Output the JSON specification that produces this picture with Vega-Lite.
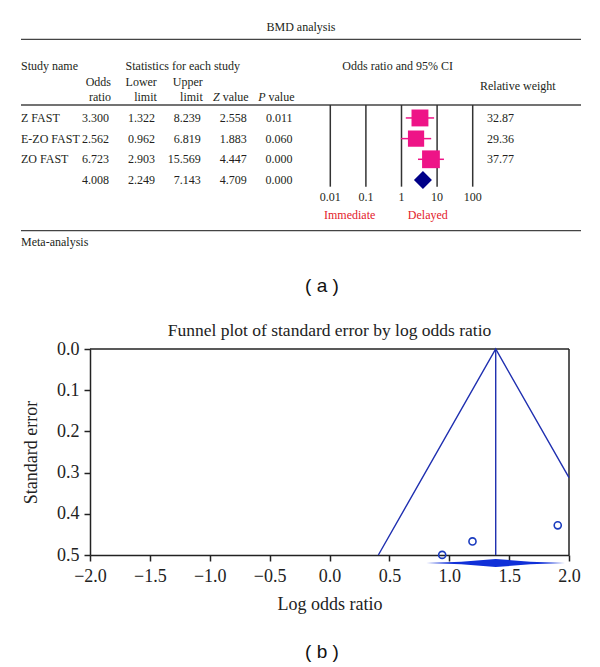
{
  "$schema": "https://vega.github.io/schema/vega-lite/v6.json",
  "background": "white",
  "padding": {"left": 20, "top": 0, "right": 0, "bottom": 0},
  "spacing": 16,
  "config": {
    "view": {"stroke": null},
    "font": "Liberation Serif",
    "text": {"font": "Liberation Serif", "fontSize": 12, "color": "#231f20"},
    "axis": {"labelFont": "Liberation Serif", "labelFontSize": 18, "labelColor": "#222", "titleFont": "Liberation Serif", "titleFontSize": 18, "titleFontWeight": "normal", "titleColor": "#222", "domainColor": "#222", "domainWidth": 1.5, "tickColor": "#222", "tickWidth": 1.5, "tickSize": 6, "grid": false}
  },
  "datasets": {
    "rows": [
      {"study": "Z FAST", "type": "study", "order": 1, "or": 3.3, "lo": 1.322, "hi": 8.239, "z": 2.558, "p": 0.011, "weight": 32.87},
      {"study": "E-ZO FAST", "type": "study", "order": 2, "or": 2.562, "lo": 0.962, "hi": 6.819, "z": 1.883, "p": 0.06, "weight": 29.36},
      {"study": "ZO FAST", "type": "study", "order": 3, "or": 6.723, "lo": 2.903, "hi": 15.569, "z": 4.447, "p": 0.0, "weight": 37.77},
      {"study": "Meta-analysis", "type": "pooled", "order": 4, "or": 4.008, "lo": 2.249, "hi": 7.143, "z": 4.709, "p": 0.0}
    ],
    "headers": [
      {"key": "or", "h1": "Odds", "h2": "ratio", "it": ""},
      {"key": "lo", "h1": "Lower", "h2": "limit", "it": ""},
      {"key": "hi", "h1": "Upper", "h2": "limit", "it": ""},
      {"key": "z", "h1": "", "h2": "value", "it": "Z"},
      {"key": "p", "h1": "", "h2": "value", "it": "P"}
    ],
    "ticks": [
      {"t": 0.01, "label": "0.01"},
      {"t": 0.1, "label": "0.1"},
      {"t": 1, "label": "1"},
      {"t": 10, "label": "10"},
      {"t": 100, "label": "100"}
    ],
    "funnel_pts": [
      {"study": "Z FAST", "lor": 1.194, "se": 0.467},
      {"study": "E-ZO FAST", "lor": 0.941, "se": 0.4997},
      {"study": "ZO FAST", "lor": 1.906, "se": 0.428}
    ],
    "funnel_lines": [
      {"lor": 0.408, "se": 0.5},
      {"lor": 1.388, "se": 0},
      {"lor": 2.0, "se": 0.3122}
    ],
    "diamond": [
      {"lor": 0.81, "lo": 0.5194, "hi": 0.5194},
      {"lor": 1.1, "lo": 0.5162, "hi": 0.5226},
      {"lor": 1.388, "lo": 0.5097, "hi": 0.5291},
      {"lor": 1.677, "lo": 0.5162, "hi": 0.5226},
      {"lor": 1.966, "lo": 0.5194, "hi": 0.5194}
    ]
  },
  "vconcat": [
    {
      "width": 560,
      "height": 305,
      "resolve": {"scale": {"x": "independent"}},
      "layer": [
        {"data": {"values": [{}]}, "mark": {"type": "rule", "color": "#444", "strokeWidth": 1.3},
         "encoding": {"y": {"datum": -2.806, "type": "quantitative", "scale": {"domain": [-4.707, 10.05], "reverse": true, "nice": false, "zero": false}, "axis": null}}},
        {"data": {"values": [{}]}, "mark": {"type": "rule", "color": "#444", "strokeWidth": 1.3},
         "encoding": {"y": {"datum": 0.373, "type": "quantitative", "scale": {"domain": [-4.707, 10.05], "reverse": true, "nice": false, "zero": false}, "axis": null}}},
        {"data": {"values": [{}]}, "mark": {"type": "rule", "color": "#444", "strokeWidth": 1.3},
         "encoding": {"y": {"datum": 6.454, "type": "quantitative", "scale": {"domain": [-4.707, 10.05], "reverse": true, "nice": false, "zero": false}, "axis": null}}},
        {"data": {"values": [{"label": "BMD analysis"}]}, "mark": {"type": "text"},
         "encoding": {"y": {"datum": -3.387, "type": "quantitative", "axis": null}, "text": {"field": "label"}}},
        {"data": {"values": [{"label": "( a )"}]}, "mark": {"type": "text", "font": "Liberation Sans", "fontSize": 19, "dx": 21, "color": "#111"},
         "encoding": {"y": {"datum": 9.13, "type": "quantitative", "axis": null}, "text": {"field": "label"}}},
        {
          "layer": [
            {"data": {"name": "rows"}, "transform": [{"fold": ["or", "lo", "hi", "z", "p"], "as": ["key", "val"]}],
             "mark": {"type": "text", "align": "right"},
             "encoding": {
               "x": {"field": "key", "type": "nominal", "scale": {"type": "point", "domain": ["or", "lo", "hi", "z", "p"], "range": [88, 271.5], "padding": 0}, "axis": null},
               "y": {"field": "order", "type": "quantitative", "axis": null},
               "text": {"field": "val", "type": "quantitative", "format": ".3f"}}},
            {"data": {"name": "headers"}, "mark": {"type": "text", "align": "right", "dx": 2},
             "encoding": {
               "x": {"field": "key", "type": "nominal", "axis": null},
               "y": {"datum": -0.726, "type": "quantitative", "axis": null},
               "text": {"field": "h1"}}},
            {"data": {"name": "headers"}, "mark": {"type": "text", "align": "right", "dx": 2},
             "encoding": {
               "x": {"field": "key", "type": "nominal", "axis": null},
               "y": {"datum": -0.03, "type": "quantitative", "axis": null},
               "text": {"field": "h2"}}},
            {"data": {"name": "headers"}, "transform": [{"filter": "datum.it !== ''"}],
             "mark": {"type": "text", "align": "right", "dx": -27, "fontStyle": "italic"},
             "encoding": {
               "x": {"field": "key", "type": "nominal", "axis": null},
               "y": {"datum": -0.03, "type": "quantitative", "axis": null},
               "text": {"field": "it"}}},
            {"data": {"values": [{"label": "Statistics for each study"}]}, "mark": {"type": "text", "dx": -18},
             "encoding": {
               "x": {"datum": "hi", "type": "nominal", "axis": null},
               "y": {"datum": -1.514, "type": "quantitative", "axis": null},
               "text": {"field": "label"}}}
          ]
        },
        {
          "layer": [
            {"data": {"name": "rows"}, "transform": [{"filter": "datum.type === 'study'"}],
             "mark": {"type": "text", "align": "left"},
             "encoding": {
               "x": {"datum": "name", "type": "nominal", "scale": {"type": "point", "domain": ["name", "weight"], "range": [0, 466], "padding": 0}, "axis": null},
               "y": {"field": "order", "type": "quantitative", "axis": null},
               "text": {"field": "study"}}},
            {"data": {"name": "rows"}, "transform": [{"filter": "datum.type === 'study'"}],
             "mark": {"type": "text", "align": "left"},
             "encoding": {
               "x": {"datum": "weight", "type": "nominal", "axis": null},
               "y": {"field": "order", "type": "quantitative", "axis": null},
               "text": {"field": "weight", "type": "quantitative", "format": ".2f"}}},
            {"data": {"values": [{"label": "Study name"}]}, "mark": {"type": "text", "align": "left"},
             "encoding": {
               "x": {"datum": "name", "type": "nominal", "axis": null},
               "y": {"datum": -1.514, "type": "quantitative", "axis": null},
               "text": {"field": "label"}}},
            {"data": {"values": [{"label": "Meta-analysis"}]}, "mark": {"type": "text", "align": "left"},
             "encoding": {
               "x": {"datum": "name", "type": "nominal", "axis": null},
               "y": {"datum": 7.015, "type": "quantitative", "axis": null},
               "text": {"field": "label"}}},
            {"data": {"values": [{"label": "Relative weight"}]}, "mark": {"type": "text", "align": "left", "dx": -7},
             "encoding": {
               "x": {"datum": "weight", "type": "nominal", "axis": null},
               "y": {"datum": -0.547, "type": "quantitative", "axis": null},
               "text": {"field": "label"}}}
          ]
        },
        {
          "layer": [
            {"data": {"name": "ticks"}, "mark": {"type": "rule", "color": "#333", "strokeWidth": 1.5},
             "encoding": {
               "x": {"field": "t", "type": "quantitative", "scale": {"type": "log", "domain": [0.01, 100], "range": [309.3, 451.7], "nice": false}, "axis": null},
               "y": {"datum": 0.373, "type": "quantitative", "axis": null},
               "y2": {"datum": 4.325}}},
            {"data": {"name": "ticks"}, "mark": {"type": "text"},
             "encoding": {
               "x": {"field": "t", "type": "quantitative", "axis": null},
               "y": {"datum": 4.81, "type": "quantitative", "axis": null},
               "text": {"field": "label"}}},
            {"data": {"values": [{"label": "Immediate"}]}, "mark": {"type": "text", "color": "#e3202b"},
             "encoding": {
               "x": {"datum": 0.035, "type": "quantitative", "axis": null},
               "y": {"datum": 5.69, "type": "quantitative", "axis": null},
               "text": {"field": "label"}}},
            {"data": {"values": [{"label": "Delayed"}]}, "mark": {"type": "text", "color": "#e3202b"},
             "encoding": {
               "x": {"datum": 5.5, "type": "quantitative", "axis": null},
               "y": {"datum": 5.69, "type": "quantitative", "axis": null},
               "text": {"field": "label"}}},
            {"data": {"values": [{"label": "Odds ratio and 95% CI"}]}, "mark": {"type": "text"},
             "encoding": {
               "x": {"datum": 0.78, "type": "quantitative", "axis": null},
               "y": {"datum": -1.514, "type": "quantitative", "axis": null},
               "text": {"field": "label"}}},
            {"data": {"name": "rows"}, "transform": [{"filter": "datum.type === 'study'"}],
             "mark": {"type": "rule", "color": "#ee1487", "strokeWidth": 1.5},
             "encoding": {
               "x": {"field": "lo", "type": "quantitative", "axis": null},
               "x2": {"field": "hi"},
               "y": {"field": "order", "type": "quantitative", "axis": null}}},
            {"data": {"name": "rows"}, "transform": [{"filter": "datum.type === 'study'"}],
             "mark": {"type": "point", "shape": "square", "filled": true, "color": "#ee1487", "opacity": 1},
             "encoding": {
               "x": {"field": "or", "type": "quantitative", "axis": null},
               "y": {"field": "order", "type": "quantitative", "axis": null},
               "size": {"field": "weight", "type": "quantitative", "scale": {"domain": [0, 40], "range": [80, 330]}, "legend": null}}},
            {"data": {"name": "rows"}, "transform": [{"filter": "datum.type === 'pooled'"}],
             "mark": {"type": "point", "shape": "diamond", "filled": true, "color": "#000088", "size": 324, "opacity": 1},
             "encoding": {
               "x": {"field": "or", "type": "quantitative", "axis": null},
               "y": {"field": "order", "type": "quantitative", "axis": null}}}
          ]
        }
      ]
    },
    {
      "width": 548,
      "height": 206,
      "title": {"text": "Funnel plot of standard error by log odds ratio", "font": "Liberation Serif", "fontSize": 17.5, "fontWeight": "normal", "color": "#222", "offset": 1, "dx": 34.5},
      "layer": [
        {"data": {"values": [{}]}, "mark": {"type": "rule", "color": "#222", "strokeWidth": 1.5},
         "encoding": {
           "x": {"datum": -2, "type": "quantitative", "title": "Log odds ratio", "scale": {"domain": [-2, 2], "range": [69, 548], "nice": false, "zero": false}, "axis": {"values": [-2, -1.5, -1, -0.5, 0, 0.5, 1, 1.5, 2], "format": ".1f", "labelFlush": false, "labelOverlap": false, "titlePadding": 10, "labelPadding": 6}},
           "x2": {"datum": 2},
           "y": {"datum": 0, "type": "quantitative", "title": "Standard error", "scale": {"domain": [0, 0.5], "reverse": true, "nice": false, "zero": false}, "axis": {"values": [0, 0.1, 0.2, 0.3, 0.4, 0.5], "format": ".1f", "labelFlush": false, "labelOverlap": false, "titlePadding": 16, "labelPadding": 5, "offset": -69}}}},
        {"data": {"values": [{}]}, "mark": {"type": "rule", "color": "#222", "strokeWidth": 1.5},
         "encoding": {
           "x": {"datum": 2, "type": "quantitative", "title": "Log odds ratio", "scale": {"domain": [-2, 2], "range": [69, 548], "nice": false, "zero": false}},
           "y": {"datum": 0, "type": "quantitative", "title": "Standard error", "scale": {"domain": [0, 0.5], "reverse": true, "nice": false, "zero": false}},
           "y2": {"datum": 0.5}}},
        {"data": {"name": "funnel_lines"}, "mark": {"type": "line", "color": "#1f2fb0", "strokeWidth": 1.4},
         "encoding": {
           "x": {"field": "lor", "type": "quantitative", "title": "Log odds ratio", "scale": {"domain": [-2, 2], "range": [69, 548], "nice": false, "zero": false}},
           "y": {"field": "se", "type": "quantitative", "title": "Standard error", "scale": {"domain": [0, 0.5], "reverse": true, "nice": false, "zero": false}}}},
        {"data": {"values": [{}]}, "mark": {"type": "rule", "color": "#1f2fb0", "strokeWidth": 1.4},
         "encoding": {
           "x": {"datum": 1.388, "type": "quantitative", "title": "Log odds ratio", "scale": {"domain": [-2, 2], "range": [69, 548], "nice": false, "zero": false}},
           "y": {"datum": 0, "type": "quantitative", "title": "Standard error", "scale": {"domain": [0, 0.5], "reverse": true, "nice": false, "zero": false}},
           "y2": {"datum": 0.5}}},
        {"data": {"name": "funnel_pts"}, "mark": {"type": "point", "shape": "circle", "filled": false, "color": "#1a3bbf", "size": 50, "strokeWidth": 1.6, "opacity": 1},
         "encoding": {
           "x": {"field": "lor", "type": "quantitative", "title": "Log odds ratio", "scale": {"domain": [-2, 2], "range": [69, 548], "nice": false, "zero": false}},
           "y": {"field": "se", "type": "quantitative", "title": "Standard error", "scale": {"domain": [0, 0.5], "reverse": true, "nice": false, "zero": false}}}},
        {"data": {"name": "diamond"}, "mark": {"type": "area", "color": "#1030d8", "opacity": 1},
         "encoding": {
           "x": {"field": "lor", "type": "quantitative", "title": "Log odds ratio", "scale": {"domain": [-2, 2], "range": [69, 548], "nice": false, "zero": false}},
           "y": {"field": "lo", "type": "quantitative", "title": "Standard error", "scale": {"domain": [0, 0.5], "reverse": true, "nice": false, "zero": false}},
           "y2": {"field": "hi"}}}
      ]
    },
    {
      "width": 560,
      "height": 46,
      "data": {"values": [{"label": "( b )"}]},
      "mark": {"type": "text", "font": "Liberation Sans", "fontSize": 19, "dx": 21, "color": "#111"},
      "encoding": {"text": {"field": "label"}}
    }
  ]
}
